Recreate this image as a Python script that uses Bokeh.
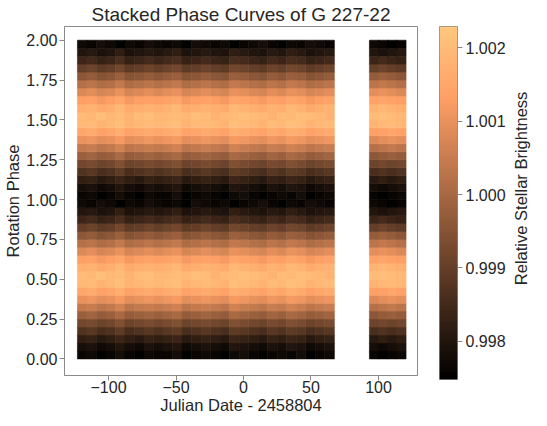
import numpy as np
from bokeh.plotting import figure
from bokeh.models import (ColumnDataSource, FixedTicker, Label, Range1d, LinearColorMapper)
from bokeh.transform import linear_cmap
from bokeh.layouts import row
from bokeh.embed import file_html
from bokeh.resources import INLINE

# ---------------- data ----------------
# centres of the time bins (Julian Date - 2458804)
time_bins = [-119.5, -112.5, -105.4, -98.4, -91.3, -84.3, -77.2, -70.2, -63.1,
             -56.1, -49.0, -42.0, -34.9, -27.9, -20.8, -13.8, -6.7, 0.3,
             7.4, 14.4, 21.5, 28.5, 35.6, 42.6, 49.7, 56.7, 63.8,
             96.8, 103.5, 110.2, 116.9]
# centres of the phase bins (one rotation; the plot shows it twice)
phase_bins = [0.025, 0.075, 0.125, 0.175, 0.225, 0.275, 0.325, 0.375, 0.425, 0.475,
              0.525, 0.575, 0.625, 0.675, 0.725, 0.775, 0.825, 0.875, 0.925, 0.975]
# relative brightness - 1, in units of 1e-4 ; one list per phase bin, one entry per time bin
brightness_e4 = [
    [-24,-23,-25,-24,-22,-24,-25,-23,-24, -24,-22,-25,-24,-23,-24,-25,-23,-22, -24,-25,-24,-23,-24,-22,-25,-24,-23, -24,-25,-24,-23],
    [-22,-21,-23,-22,-20,-22,-23,-21,-22, -21,-20,-23,-22,-21,-22,-23,-20,-21, -22,-23,-21,-22,-20,-21,-23,-22,-21, -22,-23,-22,-21],
    [-18,-17,-19,-18,-16,-18,-19,-17,-18, -17,-16,-19,-18,-17,-18,-19,-16,-17, -18,-19,-17,-18,-16,-17,-19,-18,-17, -19,-18,-19,-18],
    [-13,-12,-14,-13,-11,-14,-13,-12,-13, -12,-11,-14,-13,-12,-13,-14,-11,-12, -13,-14,-12,-13,-11,-12,-14,-13,-12, -14,-13,-14,-13],
    [-8,-7,-9,-8,-6,-9,-8,-7,-8, -7,-6,-9,-8,-7,-8,-9,-6,-7, -8,-9,-7,-8,-6,-7,-9,-8,-7, -9,-8,-9,-8],
    [-2,-1,-3,-2,0,-3,-2,-1,-2, -1,0,-3,-2,-1,-2,-3,0,-1, -2,-3,-1,-2,0,-1,-3,-2,-1, -4,-3,-2,-3],
    [4,5,3,4,6,3,4,5,4, 5,6,3,4,5,4,3,6,5, 4,3,5,4,6,5,3,4,5, 2,3,4,3],
    [10,11,9,10,12,9,10,11,10, 11,12,9,10,11,10,9,12,11, 10,9,11,10,12,11,9,10,11, 8,9,10,9],
    [15,16,14,15,17,14,15,16,15, 16,17,14,15,16,15,14,17,16, 15,14,16,15,17,16,14,15,16, 13,14,15,14],
    [19,20,18,19,21,18,19,20,19, 20,21,18,19,20,19,18,21,20, 19,18,20,19,21,20,18,19,20, 18,19,20,19],
    [20,19,21,19,20,18,20,21,19, 19,20,19,21,20,18,19,20,21, 20,19,18,20,19,21,20,19,18, 20,21,20,19],
    [17,18,16,17,19,16,17,18,17, 18,19,16,17,18,17,16,19,18, 17,16,18,17,19,18,16,17,18, 18,19,18,17],
    [13,14,12,13,15,12,13,14,13, 14,15,12,13,14,13,12,15,14, 13,12,14,13,15,14,12,13,14, 14,15,14,13],
    [8,9,7,8,10,7,8,9,8, 9,10,7,8,9,8,7,10,9, 8,7,9,8,10,9,7,8,9, 9,10,9,8],
    [2,3,1,2,4,1,2,3,2, 3,4,1,2,3,2,1,4,3, 2,1,3,2,4,3,1,2,3, 3,4,3,2],
    [-4,-3,-5,-4,-2,-5,-4,-3,-4, -3,-2,-5,-4,-3,-4,-5,-2,-3, -4,-5,-3,-4,-2,-3,-5,-4,-3, -3,-2,-3,-4],
    [-10,-9,-11,-10,-8,-11,-10,-9,-10, -9,-8,-11,-10,-9,-10,-11,-8,-9, -10,-11,-9,-10,-8,-9,-11,-10,-9, -10,-9,-10,-11],
    [-16,-15,-17,-16,-14,-17,-16,-15,-16, -15,-14,-17,-16,-15,-16,-17,-14,-15, -16,-17,-15,-16,-14,-15,-17,-16,-15, -16,-15,-16,-17],
    [-20,-19,-21,-20,-18,-21,-20,-19,-20, -19,-18,-21,-20,-19,-20,-21,-18,-19, -20,-21,-19,-20,-18,-19,-21,-20,-19, -20,-21,-20,-19],
    [-23,-24,-22,-23,-25,-23,-24,-22,-23, -24,-23,-25,-22,-23,-24,-23,-25,-24, -23,-22,-24,-25,-23,-24,-22,-23,-24, -23,-24,-25,-24],
]
x_ticks = [-100, -50, 0, 50, 100]
y_ticks = [0.0, 0.25, 0.5, 0.75, 1.0, 1.25, 1.5, 1.75, 2.0]
cbar_ticks = [0.998, 0.999, 1.000, 1.001, 1.002]
vmin, vmax = 0.99748, 1.00229

# ---------------- styling ----------------
FONT = "Liberation Sans"
TXT = "#262626"
SPINE = "#8a8a8a"
BIN_W = 7.05
PHASE_H = 0.05

def copper(n=256):
    out = []
    for i in range(n):
        t = i / (n - 1)
        r = min(1.0, 1.25 * t); g = 0.7812 * t; b = 0.4975 * t
        out.append("#%02x%02x%02x" % (int(round(r * 255)), int(round(g * 255)), int(round(b * 255))))
    return out
PAL = copper()

xs, ys, vs = [], [], []
for cycle in (0, 1):
    for pi, ph in enumerate(phase_bins):
        for ti, t in enumerate(time_bins):
            xs.append(t); ys.append(ph + cycle)
            vs.append(1.0 + brightness_e4[pi][ti] * 1e-4)
src = ColumnDataSource(dict(x=xs, y=ys, v=vs))

def style_axis(ax, size="16px"):
    ax.axis_line_color = SPINE
    ax.major_tick_line_color = SPINE
    ax.major_tick_out = 5
    ax.major_tick_in = 0
    ax.minor_tick_line_color = None
    ax.major_label_text_font = FONT
    ax.major_label_text_font_size = size
    ax.major_label_text_color = TXT
    ax.axis_label_text_font = FONT
    ax.axis_label_text_font_size = "16.5px"
    ax.axis_label_text_font_style = "normal"
    ax.axis_label_text_color = TXT

p = figure(frame_width=353, frame_height=349,
           x_range=Range1d(-132.6, 128.9), y_range=Range1d(-0.104, 2.086),
           output_backend="svg", toolbar_location=None,
           min_border_left=64, min_border_right=8, min_border_top=24, min_border_bottom=37)
p.title.text = "Stacked Phase Curves of G 227-22"
p.title.align = "center"
p.title.text_font = FONT
p.title.text_font_size = "19px"
p.title.text_font_style = "normal"
p.title.text_color = TXT
p.title.standoff = 3
cmap = linear_cmap("v", PAL, vmin, vmax)
p.rect(x="x", y="y", width=BIN_W, height=PHASE_H, source=src,
       fill_color=cmap, line_color=cmap, line_width=0.6)
p.xgrid.visible = False
p.ygrid.visible = False
p.outline_line_color = SPINE
p.xaxis.ticker = FixedTicker(ticks=x_ticks)
p.xaxis.major_label_overrides = {t: (("\u2212%d" % -t) if t < 0 else str(t)) for t in x_ticks}
p.yaxis.ticker = FixedTicker(ticks=y_ticks)
p.yaxis.major_label_overrides = {t: "%.2f" % t for t in y_ticks}
p.xaxis.axis_label = "Julian Date - 2458804"
p.yaxis.axis_label = "Rotation Phase"
for ax in (p.xaxis[0], p.yaxis[0]):
    style_axis(ax)
p.xaxis.major_label_standoff = 0
p.xaxis.axis_label_standoff = 0
p.yaxis.major_label_standoff = 2
p.yaxis.axis_label_standoff = 1

# ---------------- colour bar ----------------
cb = figure(frame_width=18, frame_height=353, x_range=Range1d(0, 1), y_range=Range1d(vmin, vmax),
            x_axis_location=None, y_axis_location="right",
            output_backend="svg", toolbar_location=None,
            min_border_left=14, min_border_right=53, min_border_top=20, min_border_bottom=37)
grad = np.linspace(vmin, vmax, 256).reshape(-1, 1)
cb.image(image=[grad], x=0, y=vmin, dw=1, dh=vmax - vmin,
         color_mapper=LinearColorMapper(palette=PAL, low=vmin, high=vmax))
cb.xgrid.visible = False
cb.ygrid.visible = False
cb.outline_line_color = SPINE
cb.yaxis.ticker = FixedTicker(ticks=cbar_ticks)
cb.yaxis.major_label_overrides = {t: "%.3f" % t for t in cbar_ticks}
style_axis(cb.yaxis[0])
cb.yaxis.axis_line_color = None
cb.yaxis.major_label_standoff = 3

# ---------------- colour bar label ----------------
lf = figure(width=21, height=410, x_range=Range1d(0, 1), y_range=Range1d(0, 1),
            x_axis_location=None, y_axis_location=None,
            output_backend="svg", toolbar_location=None, min_border=0)
lf.outline_line_color = None
lf.xgrid.visible = False
lf.ygrid.visible = False
lf.add_layout(Label(x=0.5, y=0.528, text="Relative Stellar Brightness", angle=np.pi / 2,
                    text_align="center", text_baseline="middle",
                    text_font=FONT, text_font_size="16.5px", text_color=TXT))

layout = row(p, cb, lf)
open("out.html", "w").write(file_html(layout, INLINE))
